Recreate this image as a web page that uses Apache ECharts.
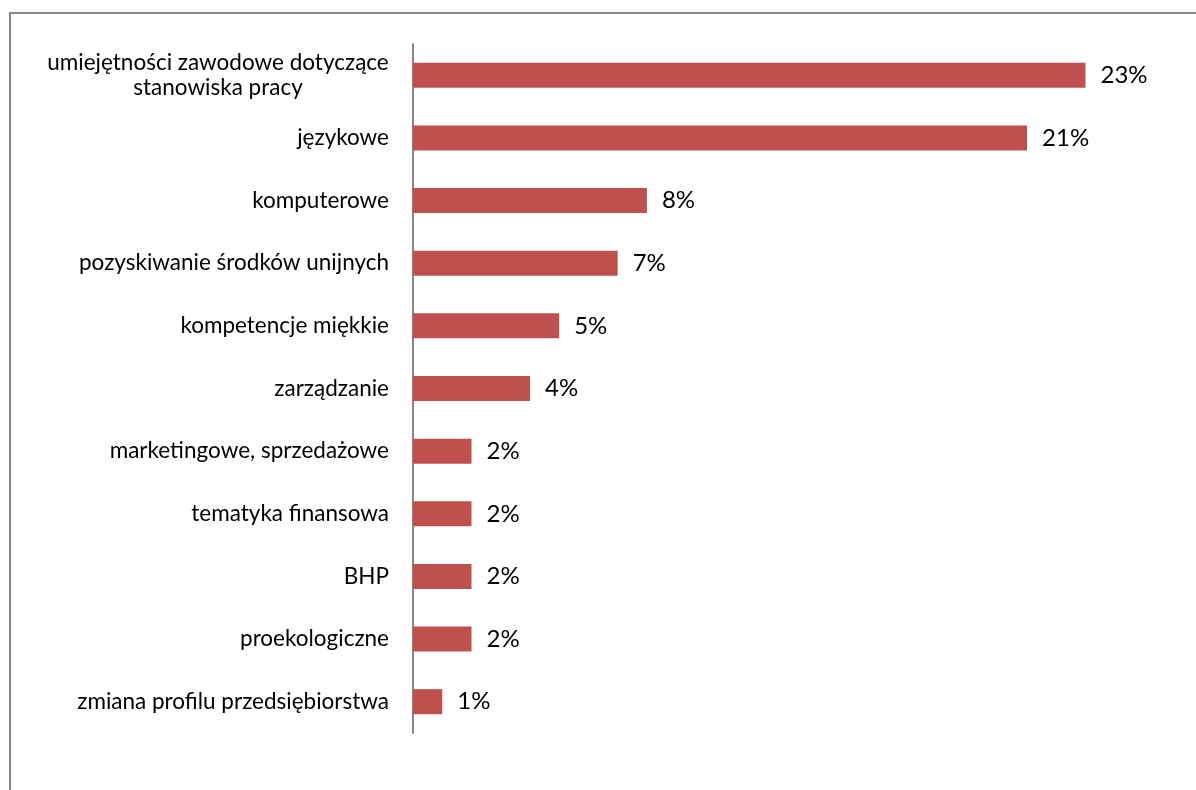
<!DOCTYPE html>
<html>
<head>
<meta charset="utf-8">
<script src="https://cdn.jsdelivr.net/npm/echarts@6/dist/echarts.min.js"></script>
<style>
  html, body { margin: 0; padding: 0; background: #fff; }
  #chart { width: 1196px; height: 790px; }
</style>
</head>
<body>
<div id="chart"></div>
<script>
// Training areas, listed top to bottom
const categories = [
  'umiejętności zawodowe dotyczące\nstanowiska pracy',
  'językowe',
  'komputerowe',
  'pozyskiwanie środków unijnych',
  'kompetencje miękkie',
  'zarządzanie',
  'marketingowe, sprzedażowe',
  'tematyka finansowa',
  'BHP',
  'proekologiczne',
  'zmiana profilu przedsiębiorstwa'
];
// Share of answers, percent
const shares = [23, 21, 8, 7, 5, 4, 2, 2, 2, 2, 1];

const FONT = 'Lato, "Open Sans", sans-serif';
const CAT_SIZE = 22.5;

// Width of the widest line of a wrapped label, so its lines can be centred
function widestLine(text) {
  const ctx = document.createElement('canvas').getContext('2d');
  ctx.font = CAT_SIZE + 'px ' + FONT;
  return Math.ceil(Math.max.apply(null, text.split('\n').map(function (s) {
    return ctx.measureText(s).width;
  })));
}

const chart = echarts.init(document.getElementById('chart'), null, { renderer: 'canvas' });

function render() {
  const wrapWidth = widestLine(categories[0]);
  chart.setOption({
    animation: false,
    backgroundColor: '#ffffff',
    grid: { left: 413, right: 52, top: 44, bottom: 57, containLabel: false },
    xAxis: {
      type: 'value',
      min: 0,
      max: 25,
      show: false
    },
    yAxis: {
      type: 'category',
      inverse: true,
      data: categories,
      axisLine: { show: true, lineStyle: { color: '#868686', width: 2 } },
      axisTick: { show: false },
      splitLine: { show: false },
      axisLabel: {
        margin: 24,
        color: '#000',
        fontFamily: FONT,
        fontSize: CAT_SIZE,
        lineHeight: 25,
        formatter: function (v) {
          if (v.indexOf('\n') >= 0) {
            return v.split('\n').map(function (s) { return '{c|' + s + '}'; }).join('\n');
          }
          return v;
        },
        rich: {
          c: { width: wrapWidth, align: 'center', fontFamily: FONT, fontSize: CAT_SIZE, lineHeight: 25, color: '#000' }
        }
      }
    },
    series: [{
      type: 'bar',
      data: shares,
      barWidth: 25,
      itemStyle: { color: '#C0504D' },
      label: {
        show: true,
        position: 'right',
        distance: 15,
        color: '#000',
        fontFamily: FONT,
        fontSize: 24,
        formatter: '{c}%'
      }
    }],
    graphic: [{
      type: 'polyline',
      silent: true,
      shape: { points: [[10, 800], [10, 13], [1200, 13]] },
      style: { stroke: '#888888', lineWidth: 2, fill: null }
    }]
  });
}

if (document.fonts && document.fonts.load) {
  document.fonts.load(CAT_SIZE + 'px Lato').then(render, render);
} else {
  render();
}
</script>
</body>
</html>
